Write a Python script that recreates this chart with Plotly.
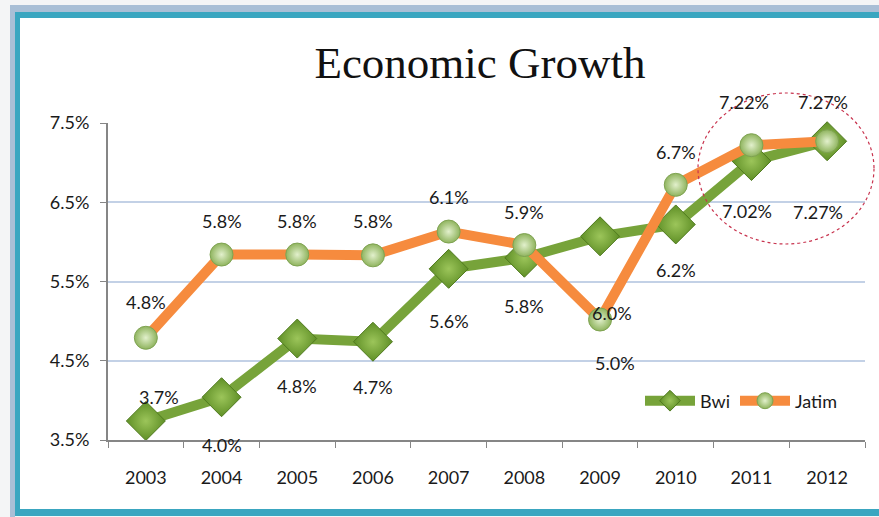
import plotly.graph_objects as go

years = ["2003", "2004", "2005", "2006", "2007", "2008", "2009", "2010", "2011", "2012"]
bwi = [3.74, 4.04, 4.78, 4.74, 5.66, 5.80, 6.07, 6.22, 7.02, 7.27]
jatim = [4.79, 5.84, 5.84, 5.83, 6.13, 5.96, 5.02, 6.72, 7.22, 7.27]
bwi_labels = ["3.7%", "4.0%", "4.8%", "4.7%", "5.6%", "5.8%", "6.0%", "6.2%", "7.02%", "7.27%"]
jatim_labels = ["4.8%", "5.8%", "5.8%", "5.8%", "6.1%", "5.9%", "5.0%", "6.7%", "7.22%", "7.27%"]
y_ticks = [3.5, 4.5, 5.5, 6.5, 7.5]
y_tick_text = ["3.5%", "4.5%", "5.5%", "6.5%", "7.5%"]

# label offsets (style only)
bwi_dx = [13, 0, 0, 0, 0, 0, 12, 0, -4, -9]
bwi_dy = [24, -48, -47, -45, -52, -48, -77, -46, -50, -71]
jat_dx = [0, 0, 0, 0, 0, 0, 15, 0, -7, -4]
jat_dy = [36, 34, 34, 34, 35, 33, -43, 33, 43, 39]

FONT = "Lato"
TXT = "#1a1a1a"
FS = 18

fig = go.Figure()
fig.add_trace(go.Scatter(
    x=years, y=bwi, name="Bwi", mode="lines+markers",
    line=dict(color="#77a33a", width=10),
    marker=dict(symbol="diamond", size=30, color="#5f8f26",
                gradient=dict(type="radial", color="#9cc55a"),
                line=dict(color="#4f7a1e", width=1)),
    cliponaxis=False,
))
fig.add_trace(go.Scatter(
    x=years, y=jatim, name="Jatim", mode="lines+markers",
    line=dict(color="#f68b3e", width=10),
    marker=dict(symbol="circle", size=23, color="#8fb45e",
                gradient=dict(type="radial", color="#e2f0cc"),
                line=dict(color="#7fa352", width=1)),
    cliponaxis=False,
))

ann = []
for i in range(len(years)):
    ann.append(dict(x=i, y=bwi[i], xref="x", yref="y", text=bwi_labels[i],
                    showarrow=False, xshift=bwi_dx[i], yshift=bwi_dy[i],
                    font=dict(family=FONT, size=FS, color=TXT)))
    ann.append(dict(x=i, y=jatim[i], xref="x", yref="y", text=jatim_labels[i],
                    showarrow=False, xshift=jat_dx[i], yshift=jat_dy[i],
                    font=dict(family=FONT, size=FS, color=TXT)))

W, H = 879, 517
L, R, T, B = 108, 14, 123, 77
pw, ph = W - L - R, H - T - B

def px(x):
    return (x - L) / pw

def py(y):
    return (H - B - y) / ph

shapes = [
    # light outer strip (left + top)
    dict(type="rect", xref="paper", yref="paper", x0=px(10), x1=px(15), y0=py(517), y1=py(5),
         line=dict(width=0), fillcolor="#a9bfd6", layer="below"),
    dict(type="rect", xref="paper", yref="paper", x0=px(10), x1=px(879), y0=py(12), y1=py(5),
         line=dict(width=0), fillcolor="#a9bfd6", layer="below"),
    # teal frame: left, top, bottom
    dict(type="rect", xref="paper", yref="paper", x0=px(15), x1=px(20), y0=py(516), y1=py(12),
         line=dict(width=0), fillcolor="#3aa6c0", layer="below"),
    dict(type="rect", xref="paper", yref="paper", x0=px(15), x1=px(879), y0=py(18), y1=py(12),
         line=dict(width=0), fillcolor="#3aa6c0", layer="below"),
    dict(type="rect", xref="paper", yref="paper", x0=px(15), x1=px(879), y0=py(516), y1=py(509),
         line=dict(width=0), fillcolor="#3aa6c0", layer="below"),
    # white chart area
    dict(type="rect", xref="paper", yref="paper", x0=px(20), x1=px(879), y0=py(509), y1=py(18),
         line=dict(width=0), fillcolor="#ffffff", layer="below"),
    # dotted highlight circle
    dict(type="circle", xref="paper", yref="paper", x0=px(698), x1=px(874), y0=py(244), y1=py(93),
         line=dict(color="#c8334e", width=1.2, dash="dot")),
]

fig.update_layout(
    width=W, height=H,
    margin=dict(l=L, r=R, t=T, b=B),
    paper_bgcolor="#f4f5f6", plot_bgcolor="rgba(0,0,0,0)",
    title=dict(text="Economic Growth", x=480 / W, xanchor="center", y=1 - 62 / H, yanchor="middle",
               font=dict(family="Liberation Serif", size=45, color="#111111")),
    showlegend=True,
    legend=dict(x=px(640), y=py(401), xanchor="left", yanchor="middle", orientation="h",
                bgcolor="rgba(0,0,0,0)", font=dict(family=FONT, size=FS, color=TXT),
                itemwidth=50, tracegroupgap=0),
    xaxis=dict(type="category", range=[-0.5, 9.5], showgrid=False, ticks="outside", tickson="boundaries",
               ticklen=6, tickcolor="#868686", showline=True, linecolor="#868686", linewidth=2,
               tickfont=dict(family=FONT, size=FS, color=TXT), ticklabelstandoff=20),
    yaxis=dict(range=[3.5, 7.5], tickvals=y_ticks, ticktext=y_tick_text, showgrid=True,
               gridcolor="#c3d1e6", gridwidth=1.5, ticks="outside", ticklen=6, tickcolor="#868686",
               showline=True, linecolor="#868686", linewidth=2, zeroline=False,
               tickfont=dict(family=FONT, size=FS, color=TXT), ticklabelstandoff=7),
    annotations=ann,
    shapes=shapes,
)

fig.write_html("out.html")
